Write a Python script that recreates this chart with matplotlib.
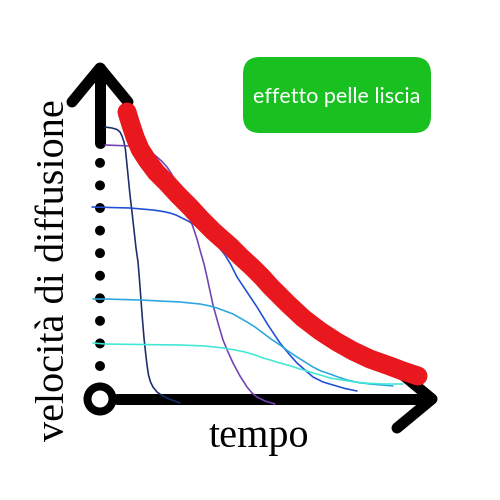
import matplotlib
matplotlib.use("Agg")
import matplotlib.pyplot as plt
from matplotlib.patches import FancyBboxPatch, Circle

# data (time, diffusion speed) in chart units
red_t = [27, 31, 35, 40, 47, 56, 67, 78, 90, 101, 113, 122, 130, 141, 153, 162, 170,
         179, 187, 203, 220, 237, 253, 270, 287, 303, 318]
red_v = [287, 274, 262, 250, 239, 227, 216, 204, 192, 180, 168, 160, 153, 142, 131, 122,
         113, 104, 96, 81, 68, 57, 48, 40, 34, 28, 23]

navy_t = [5, 12, 17, 20, 22, 24, 25.5, 27, 28.5, 30, 32, 34, 36, 38, 39.5, 41, 42.5, 44,
          45.5, 47, 48.5, 50.5, 53, 57, 62, 67, 73, 80]
navy_v = [272, 271, 269.5, 267, 263, 257, 249, 234, 219, 204, 187, 169, 151, 137, 119, 99,
          79, 61, 47, 34, 24, 17, 12, 7, 3.5, 1, -1.5, -4]

purple_t = [5, 18, 30, 40, 47, 52, 57, 62, 67, 71, 75, 79, 83, 88, 93, 97, 100, 104, 107,
            110, 113, 118, 123, 128, 133, 140, 147, 152, 157, 165, 175]
purple_v = [254, 253.5, 253, 251, 249, 246, 242, 237.5, 232, 226, 219, 210, 199, 186, 172,
            160, 149, 135, 122, 108, 94, 76, 59, 47, 36, 23, 12, 6, 2, -2, -5]

blue_t = [-8, 10, 30, 53, 63, 70, 76, 80, 88, 95, 103, 110, 118, 125, 131, 137, 147, 157,
          168, 180, 189, 197, 205, 213, 223, 233, 245, 257]
blue_v = [192, 191.5, 191, 189, 187.5, 186, 184, 182, 178, 174, 168, 161, 153, 144, 134,
          122, 107, 92, 74, 56, 45, 36, 29, 22, 17, 14, 10.5, 8]

lblue_t = [-7, 5, 40, 80, 100, 110, 117, 125, 133, 140, 147, 155, 163, 171, 180, 188, 197,
           205, 213, 221, 230, 238, 247, 258, 270, 282, 293]
lblue_v = [100, 100, 99, 97, 95, 93, 91, 88, 85, 81, 77, 72, 66, 60, 54, 48, 42, 37, 32,
           28, 25, 22, 19, 16.5, 15, 14, 13]

aqua_t = [-7, 5, 40, 80, 105, 123, 135, 145, 155, 163, 172, 180, 189, 197, 205, 213, 222,
          230, 245, 263, 283, 303]
aqua_v = [56, 55, 54.5, 54, 53, 51, 49, 47, 44, 41, 38.5, 36, 33.5, 31, 28.5, 26, 23.5,
          21, 18.5, 16, 15, 15]

xlabel = "tempo"
ylabel = "velocità di diffusione"
badge = "effetto pelle liscia"

PX = 72 / 100  # points per pixel

fig = plt.figure(figsize=(5, 5), dpi=100)
ax = fig.add_axes([0, 0, 1, 1])
ax.set_xlim(-100, 400)
ax.set_ylim(-101, 399)
ax.axis("off")

k = dict(color="black", lw=11 * PX, solid_capstyle="round", solid_joinstyle="round", zorder=2)
# vertical arrow (solid part + head)
ax.plot([0, 0], [256, 331], **k)
ax.plot([-28, 0, 28], [297, 331, 297], **k)
# dotted part
ax.plot([0, 0], [33, 237], color="black", lw=10 * PX, ls=(0, (0.001, 2.256)),
        dash_capstyle="round", zorder=2)
# origin circle
ax.add_patch(Circle((0, 0), 12.5, fill=False, lw=8 * PX, ec="black", zorder=2))
# horizontal arrow
ax.plot([17, 330], [0, 0], **k)
ax.plot([297, 332, 297], [29, 0, -29], **k)

thin = dict(lw=1.6 * PX, zorder=3, solid_capstyle="round", solid_joinstyle="round")
ax.plot(navy_t, navy_v, color="#1b2d6b", **thin)
ax.plot(purple_t, purple_v, color="#7341b3", **thin)
ax.plot(blue_t, blue_v, color="#1f4fd6", **thin)
ax.plot(lblue_t, lblue_v, color="#2ba7df", **thin)
ax.plot(aqua_t, aqua_v, color="#40e8d6", **thin)

ax.plot(red_t, red_v, color="#e8181e", lw=19 * PX, solid_capstyle="round",
        solid_joinstyle="round", zorder=4)

ax.add_patch(FancyBboxPatch((143, 266), 188, 76, boxstyle="round,pad=0,rounding_size=17",
                            fc="#18c020", ec="none", zorder=5))
ax.text(237, 302, badge, color="white", fontsize=15.5, family="Lato", weight="normal",
        ha="center", va="center", zorder=6)

ax.text(159, -48, xlabel, fontsize=29, family="Liberation Serif", ha="center",
        va="baseline", color="black")
ax.text(-45, 129, ylabel, fontsize=29, family="Liberation Serif", rotation=90,
        ha="center", va="center", color="black")

fig.savefig("out.png", dpi=100)
